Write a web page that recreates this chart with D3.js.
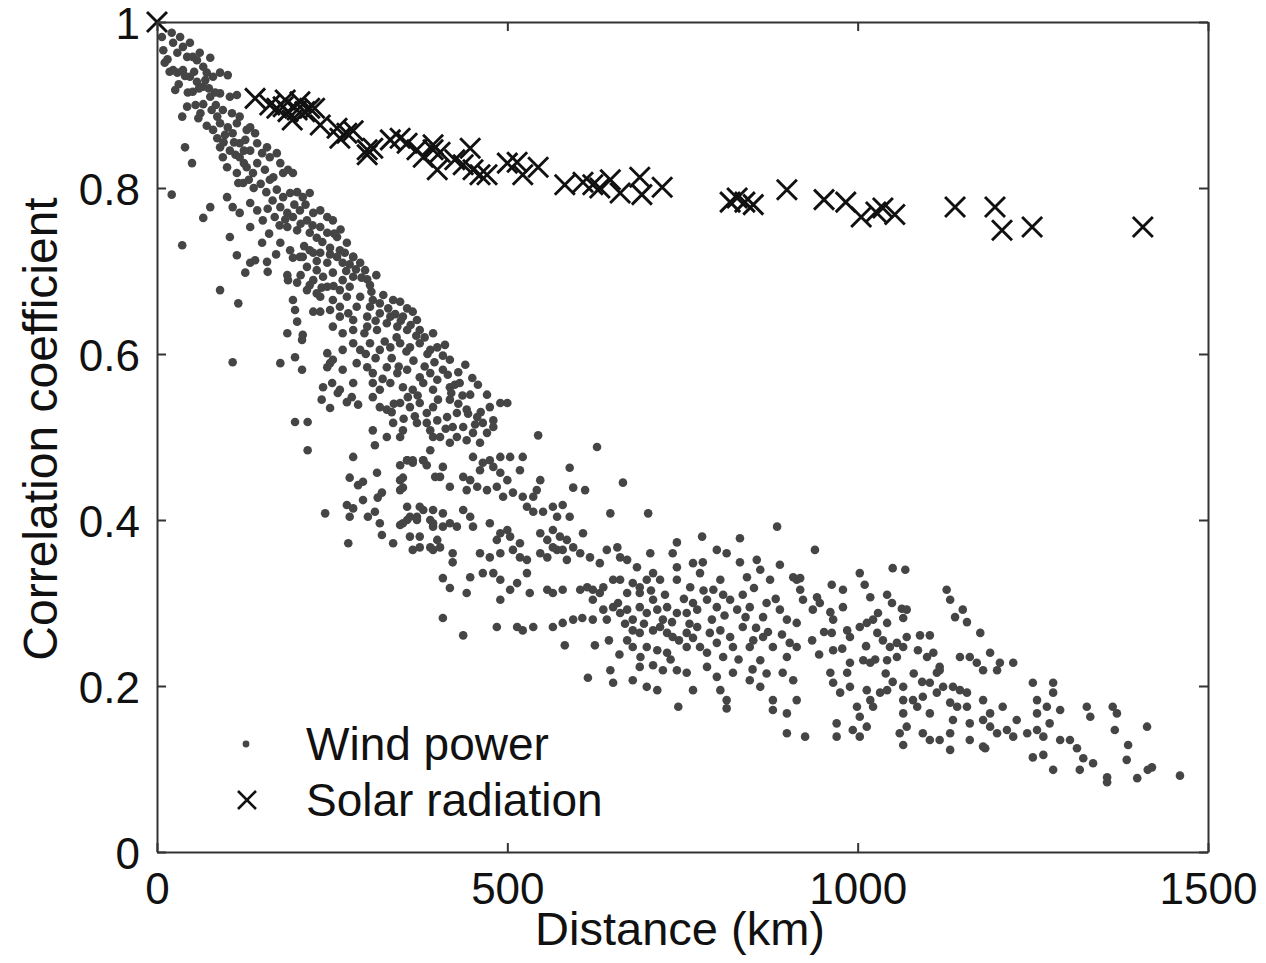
<!DOCTYPE html>
<html>
<head>
<meta charset="utf-8">
<script src="https://cdn.jsdelivr.net/npm/d3@7"></script>
<style>
  body { margin:0; background:#fff; }
  text { font-family:"Liberation Sans", Arial, Helvetica, sans-serif; fill:#111; }
</style>
</head>
<body>
<div id="result"></div>
<script>
// distance (km), correlation coefficient
var windPower = [
  [7,.982],[9,.966],[11,.951],[21,.987],[23,.975],[29,.963],[33,.982],[37,.970],[43,.958],[47,.975],
  [51,.958],[57,.954],[61,.963],[66,.946],[76,.957],[71,.939],[80,.934],[90,.939],[101,.936],[23,.942],
  [29,.939],[37,.942],[47,.934],[57,.928],[51,.916],[66,.922],[76,.910],[26,.918],[43,.898],[36,.886],
  [59,.884],[66,.901],[78,.894],[90,.914],[104,.910],[114,.912],[86,.886],[94,.894],[107,.890],[118,.886],
  [90,.878],[101,.873],[114,.878],[128,.870],[97,.864],[108,.866],[40,.849],[50,.830],[90,.849],[94,.837],
  [104,.845],[118,.854],[133,.873],[140,.866],[143,.854],[150,.842],[161,.837],[171,.842],[176,.830],[157,.849],
  [133,.845],[118,.837],[128,.825],[100,.825],[114,.818],[137,.818],[143,.830],[154,.822],[166,.813],[180,.818],
  [187,.822],[194,.818],[116,.806],[123,.806],[100,.789],[108,.777],[118,.770],[133,.782],[143,.773],[151,.761],
  [171,.798],[180,.789],[190,.794],[200,.795],[208,.789],[218,.794],[176,.777],[186,.770],[194,.765],[204,.773],
  [214,.761],[223,.770],[233,.773],[243,.765],[251,.761],[186,.753],[200,.749],[218,.746],[233,.753],[243,.746],
  [257,.741],[271,.734],[21,.792],[36,.731],[76,.777],[66,.764],[104,.741],[133,.753],[150,.734],[261,.725],
  [176,.734],[190,.725],[204,.717],[218,.725],[233,.722],[280,.717],
  [15,.955],[18,.940],[31,.925],[40,.935],[44,.915],[53,.940],[60,.920],[69,.930],[74,.920],[83,.915],
  [84,.900],[55,.900],[62,.890],[71,.875],[80,.870],[86,.860],[95,.855],[110,.855],[112,.840],[124,.845],
  [126,.858],[124,.830],[131,.810],[138,.800],[148,.805],[156,.795],[161,.810],[165,.785],[158,.775],[168,.765],
  [175,.755],[183,.762],[196,.780],[205,.757],[212,.780],[222,.755],[228,.740],[236,.735],[247,.728],[253,.745],
  [262,.750],[268,.722],[275,.708],[284,.702],[292,.692],[300,.690],[306,.675],[313,.695],[247,.720],[228,.712],
  [210,.730],[205,.695],[218,.683],[235,.680],[252,.682],[270,.700],[160,.745],[170,.720],
  [114,.719],[133,.710],[140,.713],[157,.711],[158,.699],[126,.698],[90,.677],[116,.661],[108,.590],[176,.589],
  [197,.596],[207,.581],[186,.695],[187,.689],[200,.686],[194,.716],[208,.717],[223,.722],[214,.705],[228,.701],
  [243,.710],[257,.717],[265,.710],[280,.717],[290,.710],[297,.701],[223,.689],[237,.693],[251,.698],[265,.689],
  [280,.693],[214,.677],[228,.673],[243,.681],[261,.677],[275,.681],[304,.683],[233,.669],[251,.665],[271,.669],
  [290,.669],[308,.665],[323,.671],[194,.665],[197,.653],[200,.639],[223,.651],[233,.651],[247,.653],[261,.657],
  [273,.649],[285,.657],[304,.657],[318,.661],[337,.665],[347,.663],[357,.655],[365,.651],[261,.645],[280,.641],
  [300,.645],[318,.649],[333,.645],[351,.645],[371,.641],[251,.633],[265,.625],[280,.629],[300,.633],[314,.629],
  [328,.637],[343,.633],[357,.629],[375,.629],[394,.625],[186,.625],[208,.623],[207,.617],[243,.601],[251,.593],
  [265,.605],[280,.613],[290,.605],[304,.613],[318,.605],[333,.608],[347,.613],[361,.608],[375,.613],[390,.605],
  [400,.608],[243,.584],[247,.589],[265,.581],[285,.589],[300,.584],[308,.577],[328,.584],[343,.577],[357,.581],
  [375,.572],[390,.577],[400,.569],[237,.560],[250,.565],[261,.557],[280,.565],[308,.565],[318,.557],[333,.565],
  [351,.560],[365,.557],[380,.565],[394,.557],[235,.545],[247,.535],[258,.553],[271,.542],[278,.548],[287,.539],
  [308,.548],[318,.536],[328,.533],[347,.541],[361,.536],[375,.541],[385,.529],[394,.536],[385,.517],[371,.517],
  [337,.517],[308,.508],[311,.490],[328,.500],[347,.500],[351,.508],[390,.508],[394,.500],[390,.484],[380,.472],
  [365,.472],[357,.472],[347,.466],[385,.466],[397,.452],[197,.518],[215,.518],[215,.484],[280,.476],[275,.451],
  [287,.442],[294,.446],[314,.457],[315,.427],[321,.433],[351,.451],[351,.439],[271,.418],[280,.414],[294,.424],
  [301,.404],[311,.410],[275,.404],[240,.408],[318,.396],[321,.382],[337,.372],[347,.394],[357,.400],[371,.404],
  [380,.412],[390,.400],[394,.392],[375,.380],[361,.380],[273,.372],[390,.367],[400,.376],
  [330,.655],[340,.648],[348,.640],[362,.635],[370,.622],[382,.620],[386,.600],[396,.590],[408,.598],[415,.575],
  [420,.553],[430,.540],[436,.550],[444,.528],[454,.515],[462,.530],[335,.595],[345,.585],[366,.592],[382,.585],
  [372,.550],[358,.548],[338,.540],[322,.570],[312,.595],[298,.600],[296,.625],[312,.640],[325,.615],[342,.620],
  [356,.603],[401,.545],[412,.510],[400,.520],[368,.525],[352,.522],[335,.530],
  [411,.611],[418,.593],[430,.578],[440,.587],[450,.571],[408,.581],[425,.563],[458,.563],
  [418,.560],[432,.565],[447,.551],[471,.551],[475,.536],[490,.541],[500,.541],[418,.545],[428,.529],[442,.533],
  [457,.524],[465,.517],[480,.520],[480,.512],[471,.505],[451,.505],[437,.512],[422,.512],[414,.524],[442,.496],
  [461,.493],[428,.500],[404,.500],[418,.493],[544,.502],[628,.488],[589,.463],[594,.439],[611,.436],[665,.445],
  [647,.408],[701,.408],[451,.476],[465,.469],[475,.472],[490,.476],[504,.476],[522,.476],[461,.460],[480,.464],
  [490,.457],[500,.448],[518,.460],[408,.464],[404,.452],[418,.440],[437,.452],[447,.448],[457,.440],[442,.436],
  [471,.436],[485,.440],[494,.428],[508,.433],[522,.428],[537,.428],[542,.436],[547,.448],[528,.416],[537,.410],
  [551,.410],[565,.416],[579,.418],[571,.404],[589,.404],[357,.472],[365,.469],[380,.472],[347,.448],[347,.436],
  [357,.416],[375,.416],[394,.412],[408,.408],[437,.412],[447,.404],[428,.392],[361,.404],[351,.396],[371,.400],
  [394,.396],[408,.392],[418,.396],[451,.392],[475,.396],[490,.384],[500,.388],[485,.376],[504,.380],[518,.372],
  [547,.384],[557,.376],[565,.388],[575,.380],[585,.376],[594,.367],[608,.384],[565,.367],[579,.364],[365,.364],
  [375,.367],[394,.364],[404,.367],[422,.360],[422,.349],[461,.360],[475,.355],[490,.360],[508,.364],[518,.355],
  [528,.352],[547,.360],[557,.355],[571,.364],[585,.352],[604,.360],[618,.355],[632,.348],[642,.364],[657,.367],
  [661,.355],[671,.352],[685,.343],[704,.360],[408,.330],[418,.318],[442,.312],[447,.331],[465,.336],[480,.336],
  [490,.328],[504,.316],[514,.324],[528,.336],[532,.312],[557,.316],[565,.312],[579,.316],[604,.316],[614,.319],
  [622,.316],[632,.312],[637,.319],[651,.328],[661,.328],[679,.324],[689,.319],[699,.328],[708,.336],[718,.328],
  [490,.304],[622,.304],[637,.292],[651,.295],[642,.280],[661,.288],[671,.292],[679,.280],[689,.295],[699,.288],
  [714,.292],[722,.280],[408,.282],[437,.261],[485,.271],[514,.271],[522,.267],[537,.271],[565,.271],[579,.276],
  [594,.280],[607,.282],[622,.280],[582,.249],[625,.249],[615,.210],[742,.373],[778,.380],[832,.378],[885,.392],
  [765,.348],[779,.349],[799,.364],[813,.360],[832,.349],[856,.352],[889,.346],[908,.331],[736,.360],[742,.343],
  [742,.328],[761,.319],[775,.336],[794,.316],[804,.328],[842,.331],[861,.340],[875,.328],[913,.328],[671,.312],
  [689,.312],[708,.304],[728,.295],[742,.288],[756,.288],[771,.292],[785,.304],[799,.295],[818,.304],[828,.292],
  [846,.295],[865,.283],[889,.292],[899,.280],[913,.276],[679,.267],[689,.264],[708,.267],[718,.271],[728,.264],
  [736,.259],[756,.264],[771,.271],[789,.264],[804,.267],[818,.259],[836,.271],[851,.255],[865,.259],[879,.247],
  [903,.252],[671,.255],[679,.247],[699,.247],[714,.243],[728,.240],[756,.247],[775,.247],[799,.252],[822,.247],
  [846,.247],[861,.231],[899,.235],[913,.247],[647,.219],[651,.204],[679,.207],[689,.223],[699,.199],[714,.195],
  [722,.219],[742,.219],[756,.216],[765,.195],[785,.223],[799,.211],[804,.195],[813,.183],[822,.216],[846,.207],
  [861,.199],[879,.183],[893,.216],[908,.207],[744,.175],[813,.173],[879,.171],[899,.167],[913,.183],
  [705,.315],[725,.310],[752,.305],[765,.300],[780,.315],[808,.310],[836,.310],[852,.318],[870,.300],[883,.305],
  [658,.300],[668,.275],[695,.275],[735,.277],[760,.275],[792,.280],[810,.285],[840,.283],[855,.270],[872,.265],
  [892,.262],[745,.255],[765,.258],[785,.240],[808,.235],[830,.232],[850,.220],[870,.215],[733,.232],[708,.225],
  [690,.235],[660,.238],[645,.255],[935,.255],[945,.238],[952,.265],[978,.245],[1012,.248],[1025,.232],[1040,.215],
  [1050,.205],[1080,.215],[1092,.205],
  [939,.364],[918,.330],[918,.316],[922,.304],[936,.292],[942,.307],[946,.300],[963,.322],[979,.316],[961,.289],
  [965,.280],[963,.264],[979,.295],[985,.267],[989,.259],[1003,.336],[1010,.322],[1018,.307],[1003,.271],[1013,.276],
  [1022,.280],[1029,.288],[1042,.310],[1049,.300],[1050,.342],[1068,.340],[1063,.293],[1065,.282],[1070,.292],[1042,.276],
  [1028,.264],[1036,.255],[1046,.247],[1056,.252],[1065,.247],[1070,.259],[1056,.235],[1042,.231],[1018,.228],[1008,.231],
  [989,.228],[965,.243],[961,.216],[965,.204],[985,.216],[989,.199],[975,.192],[999,.175],[1003,.163],[993,.147],
  [970,.155],[1013,.195],[1018,.183],[1022,.175],[1032,.192],[1042,.195],[1013,.151],[1003,.139],[1065,.199],[1065,.183],
  [1079,.183],[1089,.261],[1103,.261],[1086,.243],[1099,.235],[1108,.240],[1117,.223],[1113,.216],[1103,.204],[1122,.199],
  [1093,.187],[1085,.175],[1065,.167],[1070,.151],[1060,.143],[1065,.129],[1103,.167],[1093,.143],[1103,.135],[1117,.135],
  [1132,.143],[1136,.159],[1132,.180],[1113,.192],[1127,.316],[1132,.304],[1139,.283],[1150,.292],[1156,.277],[1175,.264],
  [1146,.235],[1160,.235],[1170,.228],[1179,.219],[1189,.240],[1203,.228],[1199,.219],[1222,.228],[1117,.219],[1136,.199],
  [1146,.195],[1156,.192],[1142,.175],[1156,.175],[1179,.183],[1189,.167],[1160,.155],[1179,.159],[1189,.151],[1199,.143],
  [1213,.147],[1222,.139],[1179,.127],[1207,.175],[1227,.159],[1242,.143],[1256,.147],[1265,.139],[1250,.114],[1265,.117],
  [1250,.204],[1256,.183],[1256,.167],[1270,.175],[1279,.204],[1279,.192],[1289,.171],[1274,.155],[1289,.135],[1303,.135],
  [1313,.125],[1322,.113],[1336,.107],[1279,.099],[1317,.099],[1327,.175],[1332,.163],[1364,.175],[1370,.167],[1367,.147],
  [1386,.129],[1384,.111],[1413,.151],[1356,.090],[1356,.084],[1399,.089],[1414,.099],[1420,.102],[1460,.092],[899,.143],
  [925,.139],[970,.139],[1132,.123],[1182,.125],[1160,.135]
];

var solarRadiation = [
  [0,1.0],[140,.908],[161,.900],[171,.896],[180,.898],[187,.892],[200,.894],[211,.892],[218,.896],[193,.882],
  [183,.906],[204,.904],[225,.896],[233,.876],[257,.872],[271,.866],[261,.860],[280,.869],[300,.846],[308,.848],
  [300,.840],[333,.858],[347,.860],[357,.854],[371,.846],[380,.837],[394,.846],[404,.843],[400,.822],[394,.852],
  [425,.834],[447,.848],[437,.828],[451,.822],[461,.816],[471,.816],[500,.830],[514,.831],[522,.816],[544,.825],
  [582,.804],[608,.807],[622,.804],[632,.800],[647,.810],[661,.794],[689,.813],[692,.792],[721,.801],[818,.783],
  [828,.788],[839,.783],[851,.780],[899,.798],[952,.786],[983,.783],[1005,.765],[1026,.771],[1036,.776],[1053,.768],
  [1139,.777],[1196,.777],[1206,.749],[1249,.753],[1407,.753]
];

var xTicks = [0, 500, 1000, 1500];
var yTicks = [0, 0.2, 0.4, 0.6, 0.8, 1];
var xTitle = "Distance (km)";
var yTitle = "Correlation coefficient";
var legendNames = ["Wind power", "Solar radiation"];

(function(){
  'use strict';

  var width = 1266, height = 963;
  var left = 157, right = 1208, top = 22, bottom = 852;

  var svg = d3.select("#result")
    .append("svg")
    .attr("width", width)
    .attr("height", height);

  var x = d3.scaleLinear().domain([0, 1500]).range([left, right]);
  var y = d3.scaleLinear().domain([0, 1]).range([bottom, top]);

  var crossPath = "M-10,-10L10,10M-10,10L10,-10";

  // wind dots
  svg.append("g")
    .selectAll("circle")
    .data(windPower)
    .enter()
    .append("circle")
    .attr("cx", function(d){ return x(d[0]); })
    .attr("cy", function(d){ return y(d[1]); })
    .attr("r", 4.3)
    .attr("fill", "#454545");

  // solar crosses
  svg.append("g")
    .selectAll("path")
    .data(solarRadiation)
    .enter()
    .append("path")
    .attr("d", crossPath)
    .attr("transform", function(d){ return "translate(" + x(d[0]) + "," + y(d[1]) + ")"; })
    .attr("fill", "none")
    .attr("stroke", "#111")
    .attr("stroke-width", 2.9);

  // axes, ticks inward on all four sides
  var gx = svg.append("g")
    .attr("transform", "translate(0," + bottom + ")")
    .call(d3.axisBottom(x).tickValues(xTicks).tickSizeInner(-9).tickSizeOuter(0).tickPadding(21)
      .tickFormat(function(d){ return String(d); }));
  var gy = svg.append("g")
    .attr("transform", "translate(" + left + ",0)")
    .call(d3.axisLeft(y).tickValues(yTicks).tickSizeInner(-9).tickSizeOuter(0).tickPadding(17)
      .tickFormat(function(d){ return String(d); }));
  var gt = svg.append("g")
    .attr("transform", "translate(0," + top + ")")
    .call(d3.axisTop(x).tickValues(xTicks).tickSizeInner(-9).tickSizeOuter(0).tickFormat(""));
  var gr = svg.append("g")
    .attr("transform", "translate(" + right + ",0)")
    .call(d3.axisRight(y).tickValues(yTicks).tickSizeInner(-9).tickSizeOuter(0).tickFormat(""));

  [gx, gy, gt, gr].forEach(function(g){
    g.select(".domain").attr("stroke", "#333").attr("stroke-width", 2);
    g.selectAll(".tick line").attr("stroke", "#333").attr("stroke-width", 2);
    g.selectAll(".tick text")
      .attr("fill", "#111")
      .style("font-family", '"Liberation Sans", Arial, sans-serif')
      .style("font-size", "44px");
  });
  gy.selectAll(".tick text").attr("dy", "0.38em");

  // axis titles
  svg.append("text")
    .attr("x", 680)
    .attr("y", 945)
    .attr("text-anchor", "middle")
    .style("font-size", "47px")
    .text(xTitle);

  svg.append("text")
    .attr("transform", "translate(57,429) rotate(-90)")
    .attr("text-anchor", "middle")
    .style("font-size", "48px")
    .text(yTitle);

  // legend
  var lg = svg.append("g");
  lg.append("circle")
    .attr("cx", 246).attr("cy", 744).attr("r", 3.4)
    .attr("fill", "#454545");
  lg.append("path")
    .attr("d", "M-9,-9L9,9M-9,9L9,-9")
    .attr("transform", "translate(247,800)")
    .attr("fill", "none").attr("stroke", "#111").attr("stroke-width", 2.6);
  lg.selectAll("text")
    .data(legendNames)
    .enter()
    .append("text")
    .attr("x", 306)
    .attr("y", function(d, i){ return 760 + i * 56; })
    .style("font-size", "46px")
    .text(function(d){ return d; });

})();
</script>
</body>
</html>
